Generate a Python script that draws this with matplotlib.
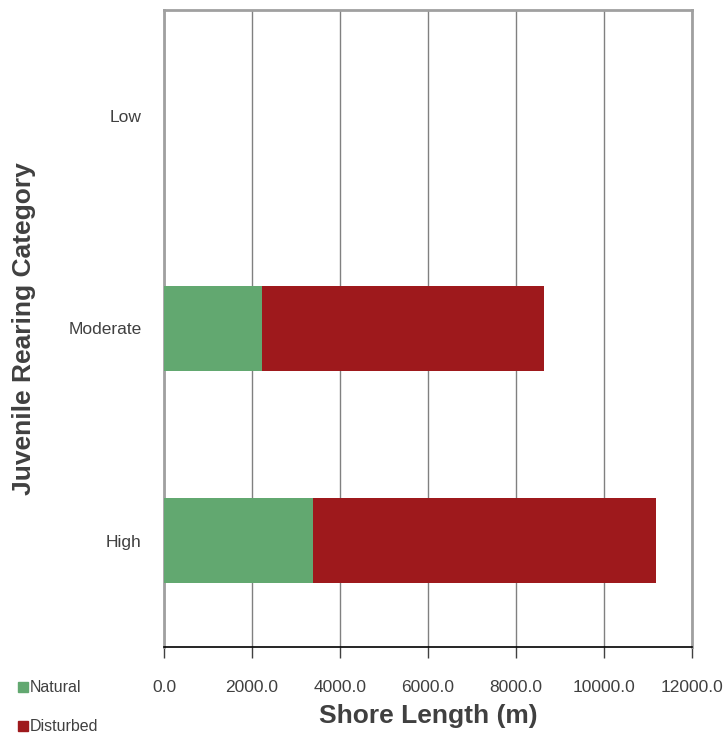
import matplotlib
matplotlib.use('Agg')
import matplotlib.pyplot as plt
from matplotlib.patches import Patch

# data
categories = ['High', 'Moderate', 'Low']
natural = [3380, 2220, 0]
disturbed = [7810, 6410, 0]
xticks = [0, 2000, 4000, 6000, 8000, 10000, 12000]

green = '#62A870'
red = '#9E191C'
txt = '#404040'

plt.rcParams['font.family'] = ['Liberation Sans Narrow', 'Liberation Sans', 'DejaVu Sans']

fig = plt.figure(figsize=(7.27, 7.40), dpi=100)
ax = fig.add_axes([0.2256, 0.1257, 0.7263, 0.8608])

ypos = list(range(len(categories)))
ax.barh(ypos, natural, height=0.4, color=green, zorder=3)
ax.barh(ypos, disturbed, left=natural, height=0.4, color=red, zorder=3)

ax.set_xlim(0, 12000)
ax.set_ylim(-0.5, 2.5)
ax.set_xticks(xticks)
ax.set_xticklabels(['%.1f' % v for v in xticks])
ax.set_yticks(ypos)
ax.set_yticklabels(categories)
ax.grid(axis='x', color='#808080', linewidth=1, zorder=0)
ax.tick_params(axis='x', direction='out', length=8, width=1, color='#404040',
               pad=16, labelsize=12.5, labelcolor=txt)
ax.tick_params(axis='y', length=0, pad=16, labelsize=12.5, labelcolor=txt)

for s in ['top', 'left', 'right']:
    ax.spines[s].set_color('#A0A0A0')
    ax.spines[s].set_linewidth(2)
ax.spines['bottom'].set_color('black')
ax.spines['bottom'].set_linewidth(1.2)

ax.set_xlabel('Shore Length (m)', fontsize=19, fontweight='bold', color=txt,
              family=['Liberation Sans', 'DejaVu Sans'], labelpad=6)
ax.set_ylabel('Juvenile Rearing Category', fontsize=19, fontweight='bold', color=txt,
              family=['Liberation Sans', 'DejaVu Sans'])
ax.yaxis.set_label_coords(-0.242, 0.5)

handles = [Patch(color=green, label='Natural'), Patch(color=red, label='Disturbed')]
fig.legend(handles=handles, loc='upper left', bbox_to_anchor=(0.005, 0.100),
           frameon=False, fontsize=11.5, handlelength=0.6, handleheight=0.6,
           handletextpad=0.15, labelspacing=1.5, labelcolor=txt)

fig.savefig('out.png', dpi=100)
